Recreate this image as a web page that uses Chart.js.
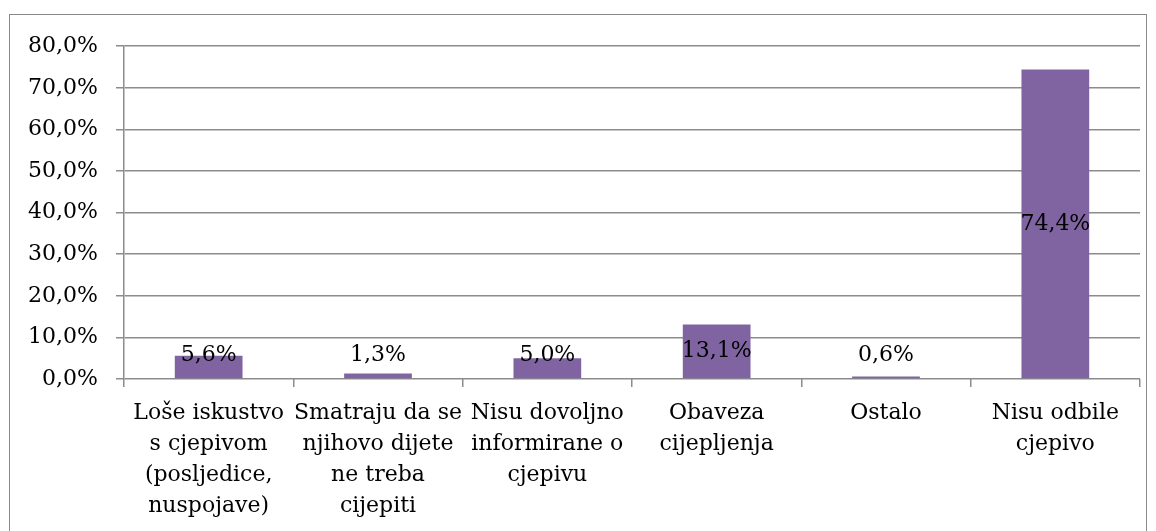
<!DOCTYPE html>
<html>
<head>
<meta charset="utf-8">
<script src="https://cdn.jsdelivr.net/npm/chart.js@4.4.1/dist/chart.umd.min.js"></script>
<style>
  html, body { margin: 0; padding: 0; background: #fff; }
  #frame {
    position: absolute; left: 9px; top: 14px;
    width: 1136px; height: 520px;
    border: 1px solid #8a8a8a;
  }
  #frame canvas { display: block; }
</style>
</head>
<body>
<div id="frame"><canvas id="chart" width="1136" height="520"></canvas></div>
<script>
// ---- Data ----
const categories = [
  ['Loše iskustvo', 's cjepivom', '(posljedice,', 'nuspojave)'],
  ['Smatraju da se', 'njihovo dijete', 'ne treba', 'cijepiti'],
  ['Nisu dovoljno', 'informirane o', 'cjepivu'],
  ['Obaveza', 'cijepljenja'],
  ['Ostalo'],
  ['Nisu odbile', 'cjepivo']
];
const shares = [5.6, 1.3, 5.0, 13.1, 0.6, 74.4];
const yTicks = [0, 10, 20, 30, 40, 50, 60, 70, 80];

const FONT = "'DejaVu Serif', 'Liberation Serif', serif";
const GRID = '#8c8c8c';

function fmtPct(v) {
  return v.toFixed(1).replace('.', ',') + '%';
}

// ---- Value labels (centered, pushed up for short bars) ----
const valueLabels = {
  id: 'valueLabels',
  afterDatasetsDraw(chart) {
    const { ctx } = chart;
    const meta = chart.getDatasetMeta(0);
    const base = chart.scales.y.getPixelForValue(0);
    ctx.save();
    ctx.font = '22px ' + FONT;
    ctx.fillStyle = '#000';
    ctx.textAlign = 'center';
    ctx.textBaseline = 'middle';
    meta.data.forEach((bar, i) => {
      const mid = (bar.y + base) / 2;
      const y = Math.min(mid, base - 24);
      ctx.fillText(fmtPct(shares[i]), bar.x, y);
    });
    ctx.restore();
  }
};

new Chart(document.getElementById('chart'), {
  type: 'bar',
  data: {
    labels: categories,
    datasets: [{
      data: shares,
      backgroundColor: '#8064a2',
      categoryPercentage: 1,
      barPercentage: 0.4
    }]
  },
  options: {
    responsive: false,
    animation: false,
    layout: { padding: { top: 29, right: 6, left: 0, bottom: 0 } },
    plugins: { legend: { display: false }, tooltip: { enabled: false } },
    scales: {
      x: {
        grid: { drawOnChartArea: false, drawTicks: true, tickLength: 8, color: GRID, lineWidth: 1.5 },
        border: { display: false },
        ticks: {
          color: '#000', padding: 11, maxRotation: 0, autoSkip: false,
          font: { family: FONT, size: 22, lineHeight: 1.41 }
        },
        afterFit: (s) => { s.height = 520 - 364; }
      },
      y: {
        min: 0, max: 80,
        afterBuildTicks: (s) => { s.ticks = yTicks.map(v => ({ value: v })); },
        grid: { color: GRID, lineWidth: 1.5, tickLength: 8 },
        border: { display: true, color: GRID, width: 1.5 },
        ticks: {
          color: '#000', padding: 18,
          font: { family: FONT, size: 22 },
          callback: (v) => fmtPct(v)
        },
        afterFit: (s) => { s.width = 114; }
      }
    }
  },
  plugins: [valueLabels]
});
</script>
</body>
</html>
